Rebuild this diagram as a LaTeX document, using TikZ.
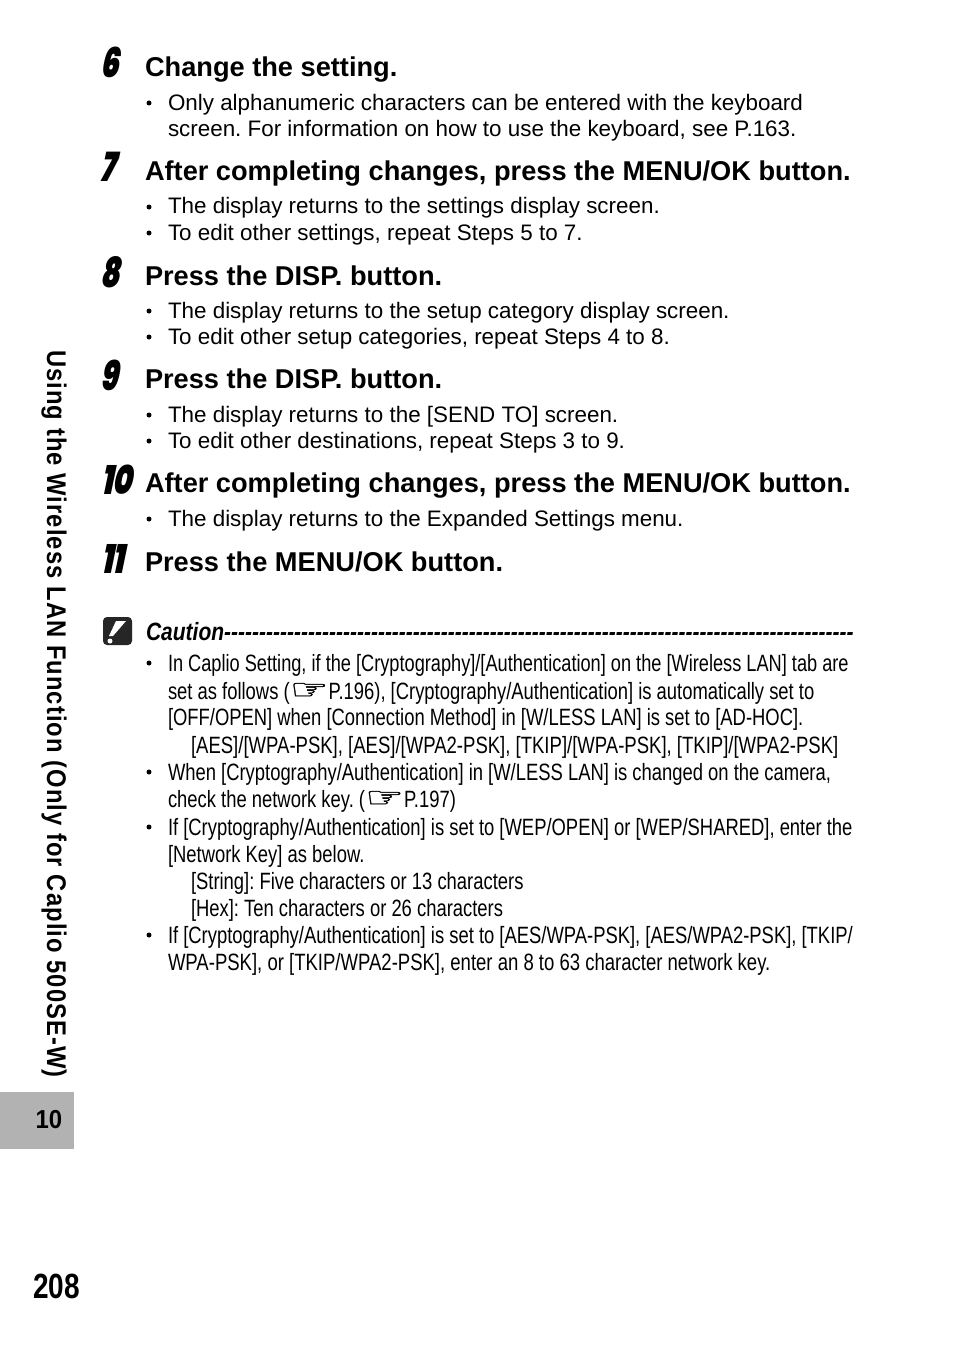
\documentclass[tikz,border=0pt]{standalone}
\usepackage{fontspec}
\setmainfont{Liberation Sans}
\newfontfamily\headfont{Liberation Sans Bold}
\newfontfamily\condfont[FakeStretch=0.78]{Liberation Sans}
\newfontfamily\condtight[FakeStretch=0.771]{Liberation Sans}
\newfontfamily\condwide[FakeStretch=0.785]{Liberation Sans}
\newfontfamily\condital[FakeStretch=0.84]{Liberation Sans Bold Italic}
\newfontfamily\stepfont[FakeStretch=0.72,FakeSlant=0.08]{Poppins Black Italic}
\newfontfamily\sidefont[LetterSpace=4,FakeStretch=0.88]{Liberation Sans Bold}
\newfontfamily\pagefont[FakeStretch=0.8]{Liberation Sans Bold}
\newfontfamily\chapfont[FakeStretch=0.92]{Liberation Sans Bold}
\newfontfamily\symfont[FakeStretch=1.55,FakeBold=1]{DejaVu Sans}
\newcommand{\hand}{{\symfont\fontsize{28}{25}\selectfont ☞}}
\tikzset{
  x=1pt,y=-1pt,
  txt/.style={anchor=base west,inner sep=0pt,outer sep=0pt,text=black},
  heading/.style={txt,font=\frenchspacing\headfont\fontsize{27.2}{30}\selectfont},
  body/.style={txt,font=\frenchspacing\fontsize{22.4}{26}\selectfont},
  cond/.style={txt,font=\frenchspacing\condfont\fontsize{23.6}{26}\selectfont},
  condt/.style={txt,font=\frenchspacing\condtight\fontsize{23.6}{26}\selectfont},
  condw/.style={txt,font=\frenchspacing\condwide\fontsize{23.6}{26}\selectfont},
  stepnum/.style={txt,font=\stepfont\fontsize{41}{42}\selectfont},
  bullet/.style={circle,fill=black,inner sep=0pt,minimum size=5pt},
}
\begin{document}
\begin{tikzpicture}
\useasboundingbox (0,0) rectangle (954,1351);
\fill[white] (0,0) rectangle (954,1351);
% step numbers
\node[stepnum] (s6) at (101,78) {6};
\node[stepnum] (s7) at (101,182) {7};
\node[stepnum] (s8) at (101,287) {8};
\node[stepnum] (s9) at (101,390) {9};
\node[stepnum] (s10) at (102,494) {10};
\node[stepnum] (s11) at (102,573) {11};
% headings
\node[heading] (h6) at (145,77) {Change the setting.};
\node[heading] (h7) at (145,181) {After completing changes, press the MENU/OK button.};
\node[heading] (h8) at (145,285) {Press the DISP. button.};
\node[heading] (h9) at (145,388) {Press the DISP. button.};
\node[heading] (h10) at (145,492) {After completing changes, press the MENU/OK button.};
\node[heading] (h11) at (145,571) {Press the MENU/OK button.};
% body
\node[bullet] (b1) at (149,103) {};
\node[body] (t1) at (168,111) {Only alphanumeric characters can be entered with the keyboard};
\node[body] (t2) at (168,137) {screen. For information on how to use the keyboard, see P.163.};
\node[bullet] (b2) at (149,207) {};
\node[body] (t3) at (168,214) {The display returns to the settings display screen.};
\node[bullet] (b3) at (149,233) {};
\node[body] (t4) at (168,240) {To edit other settings, repeat Steps 5 to 7.};
\node[bullet] (b4) at (149,311) {};
\node[body] (t5) at (168,318) {The display returns to the setup category display screen.};
\node[bullet] (b5) at (149,337) {};
\node[body] (t6) at (168,344) {To edit other setup categories, repeat Steps 4 to 8.};
\node[bullet] (b6) at (149,415) {};
\node[body] (t7) at (168,422) {The display returns to the [SEND TO] screen.};
\node[bullet] (b7) at (149,441) {};
\node[body] (t8) at (168,448) {To edit other destinations, repeat Steps 3 to 9.};
\node[bullet] (b8) at (149,519) {};
\node[body] (t9) at (168,526) {The display returns to the Expanded Settings menu.};
% caution icon
\fill[fill=black!85,rounded corners=4pt] (103,617) rectangle (132,645);
\fill[white] (116,621) -- (126,621) -- (113,636) -- (109,636) -- cycle;
\fill[white] (110,641) circle (2.5);
\node[txt,font=\condital\fontsize{25}{26}\selectfont] (ch) at (146,640) {Caution------------------------------------------------------------------------------------------};
% caution body
\node[bullet] (c1) at (149,663) {};
\node[condt] (c1a) at (168,671) {In Caplio Setting, if the [Cryptography]/[Authentication] on the [Wireless LAN] tab are};
\node[cond] (c1b) at (168,699) {set as follows (\hand P.196), [Cryptography/Authentication] is automatically set to};
\node[cond] (c1c) at (168,725) {[OFF/OPEN] when [Connection Method] in [W/LESS LAN] is set to [AD-HOC].};
\node[condw] (c1d) at (191,753) {[AES]/[WPA-PSK], [AES]/[WPA2-PSK], [TKIP]/[WPA-PSK], [TKIP]/[WPA2-PSK]};
\node[bullet] (c2) at (149,772) {};
\node[cond] (c2a) at (168,780) {When [Cryptography/Authentication] in [W/LESS LAN] is changed on the camera,};
\node[cond] (c2b) at (168,807) {check the network key. (\hand P.197)};
\node[bullet] (c3) at (149,827) {};
\node[cond] (c3a) at (168,835) {If [Cryptography/Authentication] is set to [WEP/OPEN] or [WEP/SHARED], enter the};
\node[cond] (c3b) at (168,862) {[Network Key] as below.};
\node[cond] (c3c) at (191,889) {[String]: Five characters or 13 characters};
\node[cond] (c3d) at (191,916) {[Hex]: Ten characters or 26 characters};
\node[bullet] (c4) at (149,935) {};
\node[cond] (c4a) at (168,943) {If [Cryptography/Authentication] is set to [AES/WPA-PSK], [AES/WPA2-PSK], [TKIP/};
\node[condw] (c4b) at (168,970) {WPA-PSK], or [TKIP/WPA2-PSK], enter an 8 to 63 character network key.};
% side
\node[anchor=base west,inner sep=0pt,rotate=-90,font=\sidefont\fontsize{27}{28}\selectfont] (side) at (47,350) {Using the Wireless LAN Function (Only for Caplio 500SE-W)};
\fill[fill=black!30] (0,1092) rectangle (74,1149);
\node[font=\chapfont\fontsize{26}{26}\selectfont,inner sep=0pt] (chap) at (49,1120) {10};
\node[txt,font=\pagefont\fontsize{35}{36}\selectfont] (page) at (33,1298) {208};
\end{tikzpicture}
\end{document}
